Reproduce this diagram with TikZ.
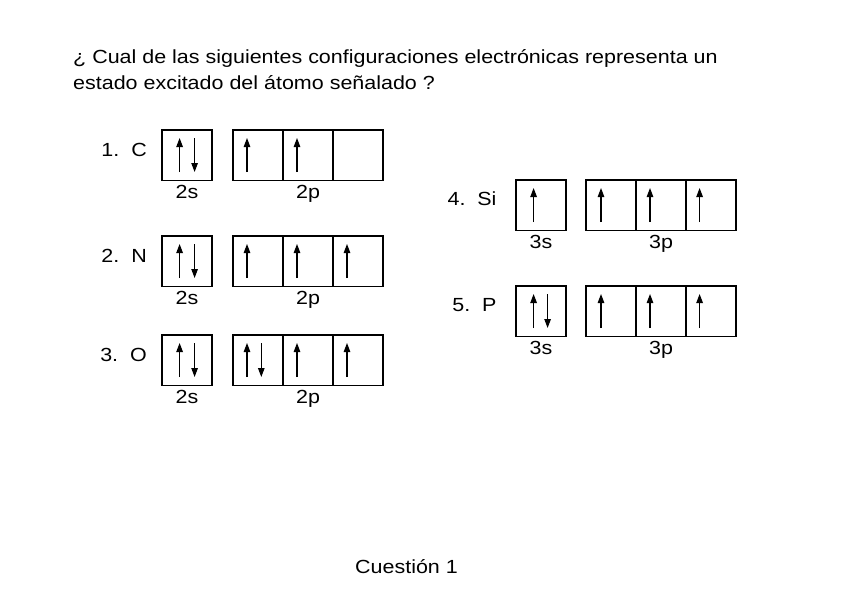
\documentclass[tikz,border=0pt]{standalone}
\usepackage{fontspec}
\setmainfont{Liberation Sans}[FakeStretch=1.13]
\usetikzlibrary{arrows.meta,calc}
\newcommand\elup[2]{\draw[el] ([xshift=#2pt,yshift=8.5pt]#1.south west) -- ([xshift=#2pt,yshift=-8pt]#1.north west);}
\newcommand\eldn[2]{\draw[el] ([xshift=#2pt,yshift=-8pt]#1.north west) -- ([xshift=#2pt,yshift=8.5pt]#1.south west);}
\begin{document}
\begin{tikzpicture}[x=1pt,y=-1pt,
  orb/.style={draw,line width=1.4pt,minimum width=50pt,minimum height=50.5pt,inner sep=0pt,outer sep=0pt,anchor=north west},
  el/.style={line width=1.1pt,-{Triangle[length=9pt,width=6.5pt]}},
  txt/.style={font=\fontsize{19}{23}\selectfont,inner sep=0pt,anchor=base west},
  lbl/.style={font=\fontsize{19}{23}\selectfont,inner sep=0pt,anchor=base},
  elem/.style={font=\fontsize{19}{23}\selectfont,inner sep=0pt,anchor=base east}]
\useasboundingbox[fill=white] (0,0) rectangle (848,615);
% title
\node[txt] (t1) at (73,63.3) {¿ Cual de las siguientes configuraciones electrónicas representa un};
\node[txt] (t2) at (73,89.3) {estado excitado del átomo señalado ?};
% row 1: C
\node[orb] (s1) at (162,130) {};
\node[orb] (p1a) at (233,130) {};
\node[orb] (p1b) at (283,130) {};
\node[orb] (p1c) at (333,130) {};
\node[elem] (e1) at ([xshift=-15pt,yshift=-1pt]s1.west) {1.\ \ C};
\node[lbl] (l1s) at ([yshift=-18.3pt]s1.south) {2s};
\node[lbl] (l1p) at ([yshift=-18.3pt]p1b.south) {2p};
\elup{s1}{17.6}\eldn{s1}{32.6}
\elup{p1a}{14}\elup{p1b}{14}
% row 2: N
\node[orb] (s2) at (162,236) {};
\node[orb] (p2a) at (233,236) {};
\node[orb] (p2b) at (283,236) {};
\node[orb] (p2c) at (333,236) {};
\node[elem] (e2) at ([xshift=-15pt,yshift=-1pt]s2.west) {2.\ \ N};
\node[lbl] (l2s) at ([yshift=-18.3pt]s2.south) {2s};
\node[lbl] (l2p) at ([yshift=-18.3pt]p2b.south) {2p};
\elup{s2}{17.6}\eldn{s2}{32.6}
\elup{p2a}{14}\elup{p2b}{14}\elup{p2c}{14}
% row 3: O
\node[orb] (s3) at (162,335) {};
\node[orb] (p3a) at (233,335) {};
\node[orb] (p3b) at (283,335) {};
\node[orb] (p3c) at (333,335) {};
\node[elem] (e3) at ([xshift=-15pt,yshift=-1pt]s3.west) {3.\ \ O};
\node[lbl] (l3s) at ([yshift=-18.3pt]s3.south) {2s};
\node[lbl] (l3p) at ([yshift=-18.3pt]p3b.south) {2p};
\elup{s3}{17.6}\eldn{s3}{32.6}
\elup{p3a}{14}\eldn{p3a}{28.3}\elup{p3b}{14}\elup{p3c}{14}
% row 4: Si
\node[orb] (s4) at (516,180) {};
\node[orb] (p4a) at (586,180) {};
\node[orb] (p4b) at (636,180) {};
\node[orb] (p4c) at (686,180) {};
\node[elem] (e4) at ([xshift=-19.3pt,yshift=0pt]s4.west) {4.\ \ Si};
\node[lbl] (l4s) at ([yshift=-18.3pt]s4.south) {3s};
\node[lbl] (l4p) at ([yshift=-18.3pt]p4b.south) {3p};
\elup{s4}{17.6}
\elup{p4a}{15}\elup{p4b}{14}\elup{p4c}{13.6}
% row 5: P
\node[orb] (s5) at (516,286) {};
\node[orb] (p5a) at (586,286) {};
\node[orb] (p5b) at (636,286) {};
\node[orb] (p5c) at (686,286) {};
\node[elem] (e5) at ([xshift=-19.3pt,yshift=-0.5pt]s5.west) {5.\ \ P};
\node[lbl] (l5s) at ([yshift=-18.3pt]s5.south) {3s};
\node[lbl] (l5p) at ([yshift=-18.3pt]p5b.south) {3p};
\elup{s5}{17.6}\eldn{s5}{31.6}
\elup{p5a}{15}\elup{p5b}{14}\elup{p5c}{13.6}
% footer
\node[txt] (cap) at (355,573.3) {Cuestión 1};
\end{tikzpicture}
\end{document}
